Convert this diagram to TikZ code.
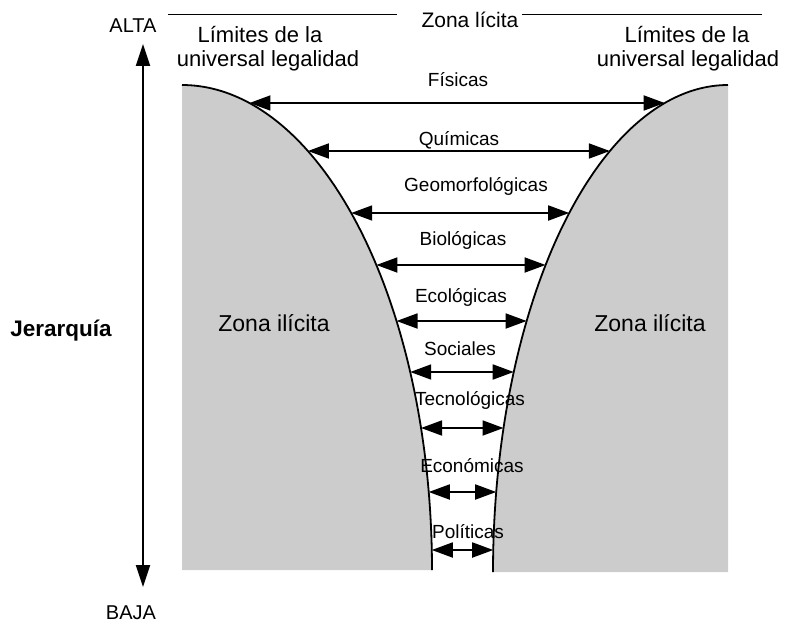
\documentclass[tikz,border=0pt]{standalone}
\usepackage{fontspec}
\setmainfont{Liberation Sans}
\usetikzlibrary{arrows.meta}
\definecolor{zonegray}{RGB}{204,204,204}
\begin{document}
\begin{tikzpicture}[x=1pt,y=-1pt,
  lbl/.style={anchor=base,inner sep=0pt,font=\fontsize{19}{22}\selectfont},
  big/.style={anchor=base,inner sep=0pt,font=\fontsize{22}{24}\selectfont},
  zone/.style={anchor=base,inner sep=0pt,font=\fontsize{23}{26}\selectfont},
  dbl/.style={line width=1.8pt,{Triangle[length=21pt,width=15pt]}-{Triangle[length=21pt,width=15pt]}},
  vert/.style={line width=1.8pt,{Triangle[length=22pt,width=14pt]}-{Triangle[length=22pt,width=14pt]}},
  edge/.style={line width=1.8pt},
  topline/.style={line width=1pt}]
\useasboundingbox (0,0) rectangle (795,623);
% gray zones
\fill[zonegray] (182,570) -- plot[domain=90:0,samples=90] ({182+250*cos(\x)},{570-485*sin(\x)}) -- cycle;
\fill[zonegray] (728,572) -- plot[domain=90:180,samples=90] ({728+235*cos(\x)},{572-487*sin(\x)}) -- cycle;
\draw[edge] plot[domain=90:0,samples=90] ({182+250*cos(\x)},{570-485*sin(\x)});
\draw[edge] plot[domain=90:180,samples=90] ({728+235*cos(\x)},{572-487*sin(\x)});
% arrows between the limits
\foreach \y/\lx/\by/\txt [count=\i] in {
  103/458/87/Físicas,
  151/459/146/Químicas,
  213/476/191/Geomorfológicas,
  265/463/245/Biológicas,
  321/461/302/Ecológicas,
  372/460/355/Sociales,
  428/470/405/Tecnológicas,
  492/472/472/Económicas,
  550/468/538/Políticas} {
  \coordinate (l\i) at ({182+250*sqrt(1-((570-\y)/485)^2)},\y);
  \coordinate (r\i) at ({728-235*sqrt(1-((572-\y)/487)^2)},\y);
  \draw[dbl] (l\i) -- (r\i);
  \node[lbl] (t\i) at (\lx,\by) {\txt};
}
% zone labels
\node[zone] (zil) at (274,331) {Zona ilícita};
\node[zone] (zir) at (650,331) {Zona ilícita};
% top line and Zona lícita
\node[anchor=base,inner sep=0pt,font=\fontsize{21}{24}\selectfont] (zl) at (470,28) {Zona lícita};
\coordinate (a1) at (168,15);
\coordinate (a2) at (397,15);
\coordinate (b1) at (522,15);
\coordinate (b2) at (762,15);
\draw[topline] (a1) -- (a2);
\draw[topline] (b1) -- (b2);
% limits text
\node[big] (ll1) at (260,43) {Límites de la};
\node[big] (ll2) at (268,67) {universal legalidad};
\node[big] (rl1) at (687,43) {Límites de la};
\node[big] (rl2) at (688,67) {universal legalidad};
% hierarchy axis
\node[anchor=base,inner sep=0pt,font=\fontsize{20}{22}\selectfont] (alta) at (133,33) {ALTA};
\node[anchor=base,inner sep=0pt,font=\fontsize{20}{22}\selectfont] (baja) at (131,619) {BAJA};
\coordinate (vt) at (143,44);
\coordinate (vb) at (143,587);
\draw[vert] (vt) -- (vb);
\node[anchor=base,inner sep=0pt,font=\fontsize{22.5}{24}\selectfont\bfseries] (jer) at (61,336) {Jerarquía};
\end{tikzpicture}
\end{document}
